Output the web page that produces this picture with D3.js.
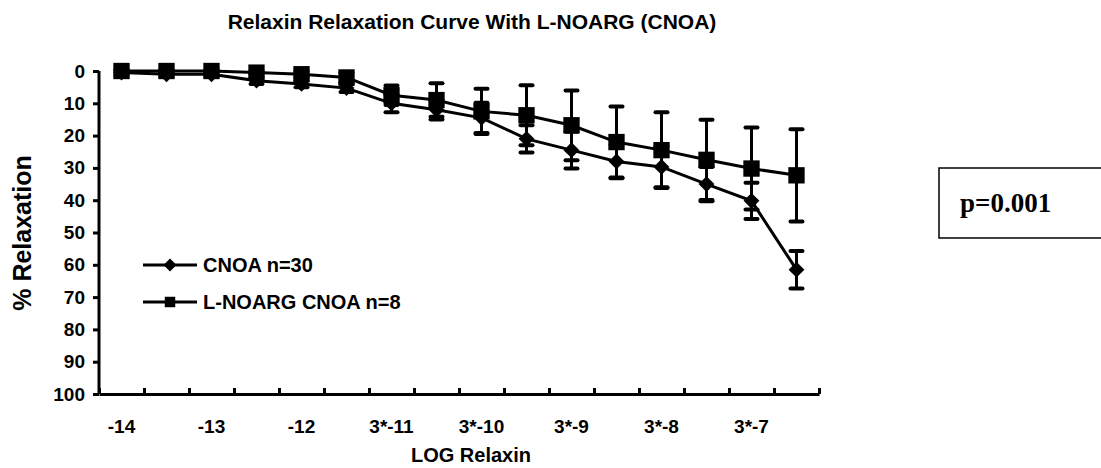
<!DOCTYPE html>
<html>
<head>
<meta charset="utf-8">
<script src="https://cdn.jsdelivr.net/npm/d3@7"></script>
<style>
  body { margin: 0; background: #fff; }
  text { font-family: "Liberation Sans", Arial, sans-serif; font-weight: bold; }
</style>
</head>
<body>
<div id="chart"></div>
<script>

const categories = d3.range(16);
const tickLabels = ["-14", "", "-13", "", "-12", "", "3*-11", "", "3*-10", "", "3*-9", "", "3*-8", "", "3*-7", ""];

const cnoaValues = [0.5, 1, 1, 3, 4, 5.3, 10, 12, 14.5, 21, 24.5, 28, 29.7, 35, 40.2, 61.5];
const cnoaErrors = [0.8, 0.8, 0.8, 1, 1, 1.2, 2.8, 3, 4.7, 4.2, 5.7, 5.2, 6.3, 5.3, 5.6, 5.8];

const noargValues = [0, 0, 0, 0.5, 1, 2, 7.5, 9, 12.5, 13.7, 16.8, 22, 24.5, 27.5, 30.2, 32.3];
const noargErrors = [0.5, 0.5, 0.5, 0.5, 1, 1.5, 3, 5.2, 7, 9.3, 10.8, 11, 11.7, 12.4, 12.7, 14.3];

const yTicks = d3.range(0, 101, 10);

async function drawChart() {

    const dimensions = {
        width: 1101,
        height: 468,
        plot: { left: 99, right: 819, top: 71, bottom: 394 }
    };

    const svg = d3.select("#chart")
        .append("svg")
        .attr("width", dimensions.width)
        .attr("height", dimensions.height);

    const xScale = d3.scaleBand()
        .domain(categories)
        .range([dimensions.plot.left, dimensions.plot.right]);

    const xEdges = d3.scaleLinear()
        .domain([0, categories.length])
        .range([dimensions.plot.left, dimensions.plot.right]);

    const yScale = d3.scaleLinear()
        .domain([0, 100])
        .range([dimensions.plot.top, dimensions.plot.bottom]);

    const cx = k => xScale(k) + xScale.bandwidth() / 2;

    // title
    svg.append("text")
        .attr("x", 472)
        .attr("y", 29)
        .attr("text-anchor", "middle")
        .style("font-size", "21px")
        .text("Relaxin Relaxation Curve With L-NOARG (CNOA)");

    // y axis
    const yAxis = d3.axisLeft(yScale)
        .tickValues(yTicks)
        .tickSize(6)
        .tickPadding(8);

    const yAxisGroup = svg.append("g")
        .attr("transform", `translate(${dimensions.plot.left}, 0)`)
        .call(yAxis);

    yAxisGroup.select(".domain").attr("stroke-width", 3).attr("d", `M0,${dimensions.plot.top}V${dimensions.plot.bottom}`);
    yAxisGroup.selectAll(".tick line").attr("stroke-width", 3);
    yAxisGroup.selectAll(".tick text")
        .style("font-size", "19px")
        .style("font-family", "'Liberation Sans', Arial, sans-serif")
        .style("font-weight", "bold")
        .attr("fill", "#000");

    // x axis line with inner ticks at category edges
    const xAxis = d3.axisBottom(xEdges)
        .tickValues(d3.range(0, categories.length + 1))
        .tickSize(-6)
        .tickSizeOuter(0)
        .tickFormat("");

    const xAxisGroup = svg.append("g")
        .attr("transform", `translate(0, ${dimensions.plot.bottom})`)
        .call(xAxis);

    xAxisGroup.select(".domain").attr("stroke-width", 3);
    xAxisGroup.selectAll(".tick line").attr("stroke-width", 3);

    // x labels at category centres
    const xLabelAxis = d3.axisBottom(xScale)
        .tickSize(0)
        .tickPadding(26)
        .tickFormat(k => tickLabels[k]);

    const xLabelGroup = svg.append("g")
        .attr("transform", `translate(0, ${dimensions.plot.bottom})`)
        .call(xLabelAxis);

    xLabelGroup.select(".domain").remove();
    xLabelGroup.selectAll(".tick text")
        .style("font-size", "19px")
        .style("font-family", "'Liberation Sans', Arial, sans-serif")
        .style("font-weight", "bold")
        .attr("fill", "#000");

    // axis titles
    svg.append("text")
        .attr("x", 471)
        .attr("y", 462)
        .attr("text-anchor", "middle")
        .style("font-size", "20px")
        .text("LOG Relaxin");

    svg.append("text")
        .attr("transform", `translate(31, 233) rotate(-90)`)
        .attr("text-anchor", "middle")
        .style("font-size", "25px")
        .text("% Relaxation");

    const seriesList = [
        { name: "CNOA n=30", values: cnoaValues, errors: cnoaErrors, symbol: d3.symbolDiamond2, size: 160, legendSize: 108 },
        { name: "L-NOARG CNOA n=8", values: noargValues, errors: noargErrors, symbol: d3.symbolSquare2, size: 340, legendSize: 140 }
    ];

    const line = d3.line()
        .x((d, i) => cx(i))
        .y(d => yScale(d));

    seriesList.forEach(series => {
        const g = svg.append("g");

        // error bars
        const bars = g.selectAll("g.err")
            .data(series.values)
            .join("g")
            .attr("class", "err");

        bars.append("line")
            .attr("x1", (d, i) => cx(i))
            .attr("x2", (d, i) => cx(i))
            .attr("y1", (d, i) => yScale(d - series.errors[i]))
            .attr("y2", (d, i) => yScale(d + series.errors[i]))
            .attr("stroke", "#000")
            .attr("stroke-width", 3);

        [-1, 1].forEach(dir => {
            bars.append("line")
                .attr("x1", (d, i) => cx(i) - 6)
                .attr("x2", (d, i) => cx(i) + 6)
                .attr("y1", (d, i) => yScale(d + dir * series.errors[i]))
                .attr("y2", (d, i) => yScale(d + dir * series.errors[i]))
                .attr("stroke", "#000")
                .attr("stroke-width", 4)
                .attr("stroke-linecap", "round");
        });

        g.append("path")
            .datum(series.values)
            .attr("fill", "none")
            .attr("stroke", "#000")
            .attr("stroke-width", 3)
            .attr("d", line);

        g.selectAll("path.mark")
            .data(series.values)
            .join("path")
            .attr("class", "mark")
            .attr("transform", (d, i) => `translate(${cx(i)}, ${yScale(d)})`)
            .attr("d", d3.symbol().type(series.symbol).size(series.size))
            .attr("fill", "#000");
    });

    // legend
    const legend = svg.append("g");

    seriesList.forEach((series, i) => {
        const y = 265 + i * 37;
        legend.append("line")
            .attr("x1", 143).attr("x2", 197)
            .attr("y1", y).attr("y2", y)
            .attr("stroke", "#000")
            .attr("stroke-width", 3);
        legend.append("path")
            .attr("transform", `translate(170, ${y})`)
            .attr("d", d3.symbol().type(series.symbol).size(series.legendSize))
            .attr("fill", "#000");
        legend.append("text")
            .attr("x", 203)
            .attr("y", y + 7)
            .style("font-size", "20px")
            .text(series.name);
    });

    // p value box
    svg.append("rect")
        .attr("x", 939)
        .attr("y", 168)
        .attr("width", 200)
        .attr("height", 70)
        .attr("fill", "#fff")
        .attr("stroke", "#000")
        .attr("stroke-width", 1.5);

    svg.append("text")
        .attr("x", 960)
        .attr("y", 212)
        .style("font-family", "'Liberation Serif', 'Times New Roman', serif")
        .style("font-size", "27px")
        .text("p=0.001");
}

drawChart();
</script>
</body>
</html>
